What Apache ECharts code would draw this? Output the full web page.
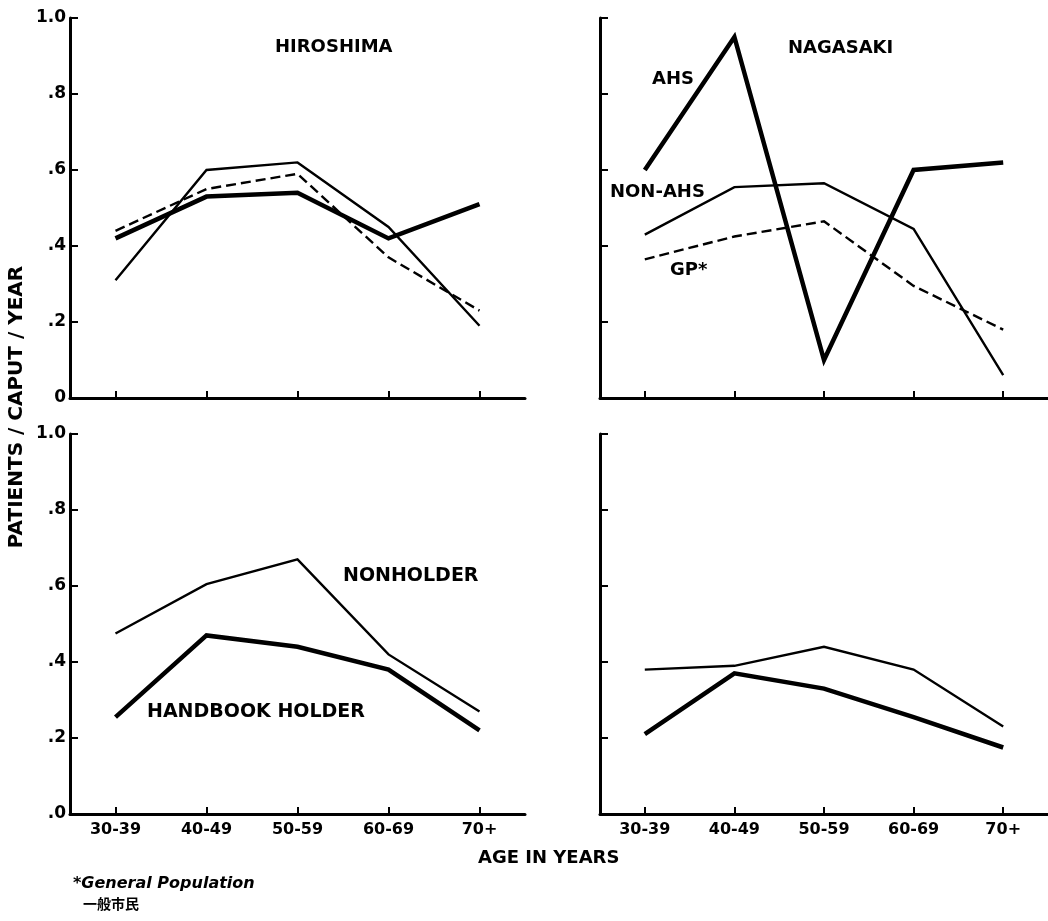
<!DOCTYPE html>
<html>
<head>
<meta charset="utf-8">
<script src="https://cdn.jsdelivr.net/npm/echarts@6/dist/echarts.min.js"></script>
<style>
  html, body { margin: 0; padding: 0; background: #fff; }
  #chart { width: 1048px; height: 921px; }
</style>
</head>
<body>
<div id="chart"></div>
<script>
// age groups and values
const ages = ['30-39', '40-49', '50-59', '60-69', '70+'];

// Hiroshima, top panel
const hiroAhs = [0.42, 0.53, 0.54, 0.42, 0.51];
const hiroNonAhs = [0.31, 0.60, 0.62, 0.45, 0.19];
const hiroGp = [0.44, 0.55, 0.59, 0.37, 0.23];
// Nagasaki, top panel
const nagaAhs = [0.60, 0.95, 0.10, 0.60, 0.62];
const nagaNonAhs = [0.43, 0.555, 0.565, 0.445, 0.06];
const nagaGp = [0.365, 0.425, 0.465, 0.295, 0.18];
// bottom panels
const hiroHolder = [0.255, 0.47, 0.44, 0.38, 0.22];
const hiroNonholder = [0.475, 0.605, 0.67, 0.42, 0.27];
const nagaHolder = [0.21, 0.37, 0.33, 0.255, 0.175];
const nagaNonholder = [0.38, 0.39, 0.44, 0.38, 0.23];

const yTicksTop = ['0', '.2', '.4', '.6', '.8', '1.0'];
const yTicksBottom = ['.0', '.2', '.4', '.6', '.8', '1.0'];

const FONT = 'DejaVu Sans';
const chart = echarts.init(document.getElementById('chart'));

const grids = [
  { left: 70, top: 18, width: 455, height: 380 },
  { left: 600, top: 18, width: 448, height: 380 },
  { left: 70, top: 434, width: 455, height: 380 },
  { left: 600, top: 434, width: 448, height: 380 }
];

const makeX = (i, showLabels) => ({
  type: 'category',
  gridIndex: i,
  data: ages,
  boundaryGap: true,
  axisLine: { lineStyle: { color: '#000', width: 3 } },
  axisTick: { show: true, inside: true, length: 7, alignWithLabel: true, lineStyle: { color: '#000', width: 2 } },
  axisLabel: { show: showLabels, color: '#000', fontFamily: FONT, fontWeight: 'bold', fontSize: 16, margin: 8 },
  splitLine: { show: false }
});

const makeY = (i, labels) => ({
  type: 'value',
  gridIndex: i,
  min: 0,
  max: 1,
  interval: 0.2,
  axisLine: { show: true, lineStyle: { color: '#000', width: 3 } },
  axisTick: { show: true, inside: true, length: 8, lineStyle: { color: '#000', width: 2 } },
  axisLabel: {
    show: !!labels,
    color: '#000',
    fontFamily: FONT,
    fontWeight: 'bold',
    fontSize: 17,
    margin: 4,
    formatter: (v) => labels ? labels[Math.round(v * 5)] : ''
  },
  splitLine: { show: false }
});

const line = (i, data, kind) => ({
  type: 'line',
  xAxisIndex: i,
  yAxisIndex: i,
  data: data,
  symbol: 'none',
  silent: true,
  lineStyle: {
    color: '#000',
    width: kind === 'thick' ? 4.5 : 2.4,
    type: kind === 'dash' ? [10, 5] : 'solid',
    join: 'miter'
  }
});

// text placed by its left edge and vertical middle
const label = (x, y, text, size) => ({
  type: 'text',
  x: x,
  y: y,
  style: {
    text: text,
    fill: '#000',
    font: 'bold ' + (size || 18) + 'px "' + FONT + '"',
    textAlign: 'left',
    textVerticalAlign: 'middle'
  }
});

chart.setOption({
  animation: false,
  grid: grids,
  xAxis: [makeX(0, false), makeX(1, false), makeX(2, true), makeX(3, true)],
  yAxis: [makeY(0, yTicksTop), makeY(1, null), makeY(2, yTicksBottom), makeY(3, null)],
  series: [
    line(0, hiroNonAhs, 'thin'),
    line(0, hiroGp, 'dash'),
    line(0, hiroAhs, 'thick'),
    line(1, nagaNonAhs, 'thin'),
    line(1, nagaGp, 'dash'),
    line(1, nagaAhs, 'thick'),
    line(2, hiroNonholder, 'thin'),
    line(2, hiroHolder, 'thick'),
    line(3, nagaNonholder, 'thin'),
    line(3, nagaHolder, 'thick')
  ],
  graphic: [
    label(275, 47, 'HIROSHIMA'),
    label(788, 48, 'NAGASAKI'),
    label(652, 79, 'AHS'),
    label(610, 192, 'NON-AHS'),
    label(670, 270, 'GP*'),
    label(343, 576, 'NONHOLDER', 19),
    label(147, 712, 'HANDBOOK HOLDER', 19),
    label(478, 858, 'AGE IN YEARS'),
    {
      type: 'text',
      x: 17,
      y: 407,
      rotation: Math.PI / 2,
      style: {
        text: 'PATIENTS / CAPUT / YEAR',
        fill: '#000',
        font: 'bold 20px "' + FONT + '"',
        textAlign: 'center',
        textVerticalAlign: 'middle'
      }
    },
    {
      type: 'text',
      x: 73,
      y: 884,
      style: {
        text: '*General Population',
        fill: '#000',
        font: 'italic bold 16px "' + FONT + '"',
        textAlign: 'left',
        textVerticalAlign: 'middle'
      }
    },
    {
      type: 'text',
      x: 83,
      y: 904,
      style: {
        text: '一般市民',
        fill: '#000',
        font: 'bold 14px "Noto Sans CJK JP"',
        textAlign: 'left',
        textVerticalAlign: 'middle'
      }
    }
  ]
});
</script>
</body>
</html>
